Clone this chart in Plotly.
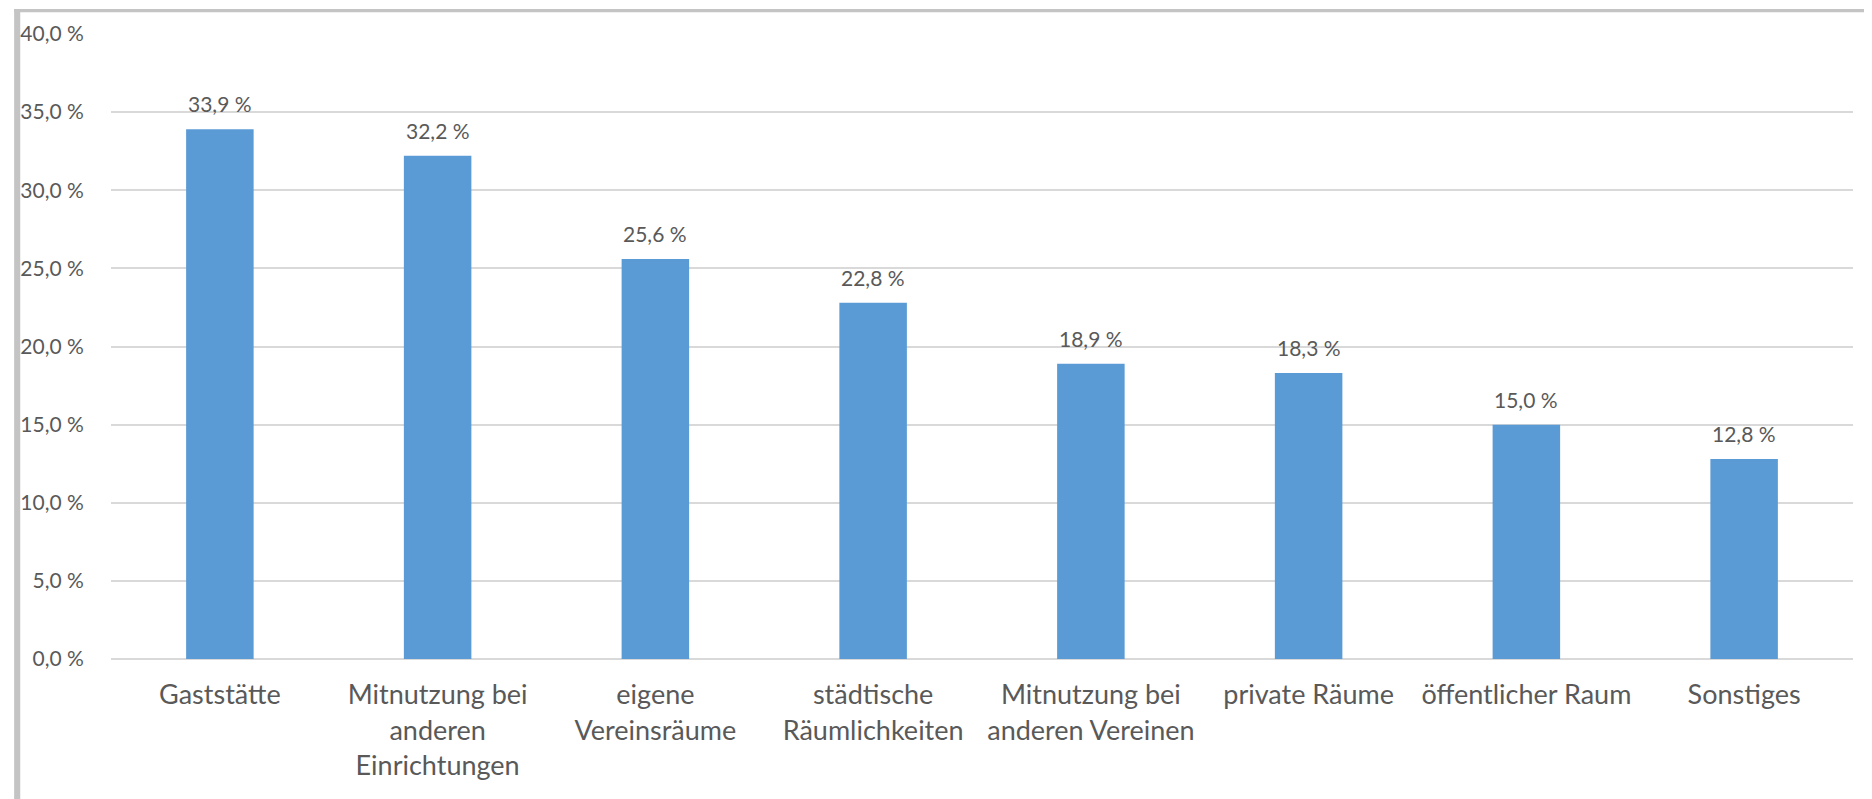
import plotly.graph_objects as go

categories = [
    "Gaststätte",
    "Mitnutzung bei<br>anderen<br>Einrichtungen",
    "eigene<br>Vereinsräume",
    "städtische<br>Räumlichkeiten",
    "Mitnutzung bei<br>anderen Vereinen",
    "private Räume",
    "öffentlicher Raum",
    "Sonstiges",
]
shares = [33.9, 32.2, 25.6, 22.8, 18.9, 18.3, 15.0, 12.8]
y_ticks = [0, 5, 10, 15, 20, 25, 30, 35, 40]
y_ticktext = [f"{v:.1f} %".replace(".", ",") for v in y_ticks]

TEXT = "#595959"
GRID = "#d9d9d9"
BAR = "#5b9bd5"
FONT = "Lato, 'Open Sans', sans-serif"

fig = go.Figure(
    go.Bar(
        x=categories,
        y=shares,
        marker=dict(color=BAR, line=dict(width=0)),
        hoverinfo="x+y",
    )
)

# value labels above the bars (a bit more gap than textposition="outside")
for cat, val in zip(categories, shares):
    fig.add_annotation(
        x=cat, y=val,
        text=f"{val:.1f} %".replace(".", ","),
        showarrow=False,
        yanchor="bottom",
        yshift=11,
        font=dict(size=21, color=TEXT, family=FONT),
    )

# the page body has an 8px margin, so the figure is 8px smaller
fig.update_layout(
    width=1864,
    height=791,
    separators=",.",
    paper_bgcolor="white",
    plot_bgcolor="white",
    bargap=0.69,
    showlegend=False,
    margin=dict(l=97, r=19, t=25, b=140),
    font=dict(family=FONT, color=TEXT),
    # grey frame of the screenshot on the left and top
    shapes=[
        dict(type="rect", xref="paper", yref="paper",
             x0=-0.0556, x1=-0.0521, y0=-0.23, y1=1.04,
             fillcolor="#c4c4c4", line=dict(width=0), layer="below"),
        dict(type="rect", xref="paper", yref="paper",
             x0=-0.0556, x1=1.011, y0=1.035, y1=1.04,
             fillcolor="#c4c4c4", line=dict(width=0), layer="below"),
    ],
)

fig.update_xaxes(
    showline=False,
    showgrid=False,
    tickfont=dict(size=27, color=TEXT, family=FONT),
    ticks="outside",
    ticklen=12,
    tickcolor="rgba(0,0,0,0)",
)

fig.update_yaxes(
    range=[0, 40],
    tickvals=y_ticks,
    ticktext=y_ticktext,
    showgrid=True,
    gridcolor=GRID,
    gridwidth=1.5,
    zeroline=True,
    zerolinecolor=GRID,
    zerolinewidth=1.5,
    showline=False,
    tickfont=dict(size=21, color=TEXT, family=FONT),
    ticks="outside",
    ticklen=22,
    tickcolor="rgba(0,0,0,0)",
)

fig.write_html("out.html")
